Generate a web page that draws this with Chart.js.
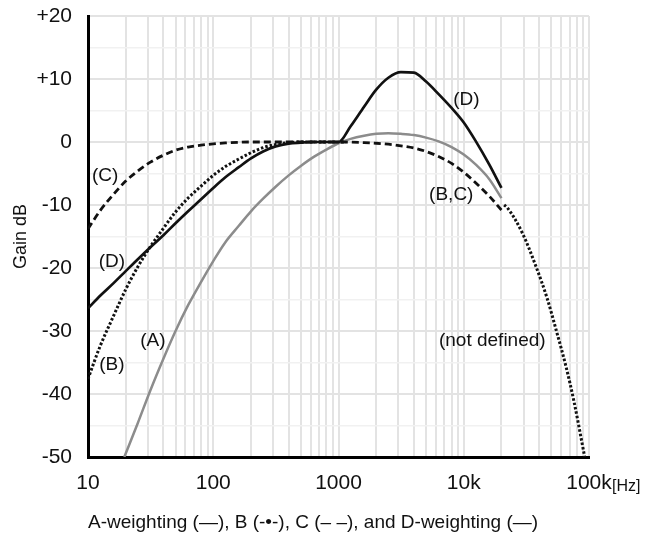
<!DOCTYPE html>
<html>
<head>
<meta charset="utf-8">
<script src="https://cdn.jsdelivr.net/npm/chart.js@4"></script>
<style>
  body { margin: 0; background: #fff; }
  canvas { display: block; }
</style>
</head>
<body>
<canvas id="weightChart" width="645" height="533"></canvas>
<script>
// Frequencies (Hz) and gains (dB)
const aFreq = [19.5, 25, 31.5, 40, 50, 63, 80, 100, 125, 160, 200, 250, 315, 400, 500, 630, 800, 1000,
               1250, 1600, 2000, 2500, 3150, 4000, 5000, 6300, 8000, 10000, 12500, 16000, 20000];
const aGain = [-50, -44.6, -39.4, -34.4, -30.0, -25.9, -22.2, -18.9, -15.9, -13.3, -11.0, -9.0, -7.1, -5.3, -3.8, -2.4, -1.2, -0.2,
               0.5, 1.0, 1.3, 1.4, 1.3, 1.1, 0.7, 0.1, -0.8, -2.0, -3.6, -5.9, -8.9];

const bFreq = [10, 12.5, 16, 20, 25, 31.5, 40, 50, 63, 80, 100, 125, 160, 200, 250, 315, 400, 500, 1150];
const bGain = [-37.6, -32.4, -27.6, -23.4, -19.8, -16.6, -13.7, -11.1, -8.9, -7.0, -5.3, -3.9, -2.7, -1.7, -0.9, -0.4, -0.1, 0, 0];

const cFreq = [10, 12.5, 16, 20, 25, 31.5, 40, 50, 63, 80, 100, 125, 160, 200, 400, 1000,
               1600, 2000, 2500, 3150, 4000, 5000, 6300, 8000, 10000, 12500, 16000, 20000];
const cGain = [-13.8, -10.9, -8.3, -6.2, -4.6, -3.2, -2.1, -1.3, -0.8, -0.5, -0.3, -0.15, -0.05, 0, 0, 0,
               -0.1, -0.2, -0.35, -0.6, -0.95, -1.5, -2.3, -3.4, -4.8, -6.5, -8.6, -10.8];

const dFreq = [10, 12.5, 16, 20, 25, 31.5, 40, 50, 63, 80, 100, 125, 160, 200, 250, 315, 400, 500, 630, 800, 1000,
               1250, 1600, 2000, 2500, 3150, 4000, 5000, 6300, 8000, 10000, 12500, 16000, 20000];
const dGain = [-26.4, -24.4, -22.4, -20.5, -18.6, -16.7, -14.8, -12.9, -11.0, -9.1, -7.3, -5.6, -4.0, -2.6, -1.5, -0.7, -0.25, -0.1, 0, 0, 0,
               2.5, 5.6, 8.3, 10.2, 11.1, 11.0, 9.6, 7.6, 5.4, 3.1, 0.1, -3.6, -7.3];

// B/C continuation above 20 kHz ("not defined")
const extFreq = [21000, 22200, 29300, 37800, 46300, 54600, 65600, 75900, 91200, 94500];
const extGain = [-10.0, -10.4, -14.4, -19.8, -24.8, -29.8, -35.7, -41.2, -49.4, -51];

const yTicks = [20, 15, 10, 5, 0, -5, -10, -15, -20, -25, -30, -35, -40, -45, -50];
const xLabels = { 10: '10', 100: '100', 1000: '1000', 10000: '10k', 100000: '100k' };

const notes = [
    { text: '(D)', x: 10500, y: 6.7 },
    { text: '(C)', x: 13.7, y: -5.4 },
    { text: '(D)', x: 15.5, y: -19.0 },
    { text: '(A)', x: 33, y: -31.6 },
    { text: '(B)', x: 15.5, y: -35.4 },
    { text: '(B,C)', x: 7950, y: -8.3 },
    { text: '(not defined)', x: 16900, y: -31.6 },
];

const toPoints = (fs, gs) => fs.map((f, i) => ({ x: f, y: gs[i] }));

// grid lines 1..9 x 10^n
const gridFreqs = [];
for (let dec = 10; dec < 100000; dec *= 10) {
    for (let m = 1; m <= 9; m++) gridFreqs.push(dec * m);
}
gridFreqs.push(100000);

const FONT = "'Liberation Sans', Arial, sans-serif";
Chart.defaults.font.family = FONT;
Chart.defaults.color = '#111';

const notesPlugin = {
    id: 'notes',
    afterDatasetsDraw(chart) {
        const ctx = chart.ctx;
        const xs = chart.scales.x, ys = chart.scales.y;
        ctx.save();
        ctx.fillStyle = '#111';
        ctx.font = '19px ' + FONT;
        ctx.textAlign = 'center';
        ctx.textBaseline = 'middle';
        notes.forEach(n => {
            ctx.fillText(n.text, xs.getPixelForValue(n.x), ys.getPixelForValue(n.y));
        });
        // unit after the last tick label
        ctx.font = '16px ' + FONT;
        ctx.textAlign = 'left';
        ctx.fillText('[Hz]', xs.right + 23, ys.bottom + 30);
        ctx.restore();
    }
};

const ctx = document.getElementById('weightChart').getContext('2d');
const weightChart = new Chart(ctx, {
    type: 'line',
    data: {
        datasets: [
            {
                label: 'D',
                data: toPoints(dFreq, dGain),
                borderColor: '#111',
                borderWidth: 2.7,
            },
            {
                label: 'B',
                data: toPoints(bFreq, bGain),
                borderColor: '#111',
                borderWidth: 3,
                borderDash: [2.5, 2],
            },
            {
                label: 'ext',
                data: toPoints(extFreq, extGain),
                borderColor: '#111',
                borderWidth: 3,
                borderDash: [2.5, 2],
            },
            {
                label: 'C',
                data: toPoints(cFreq, cGain),
                borderColor: '#111',
                borderWidth: 2.8,
                borderDash: [7, 4],
            },
            {
                label: 'A',
                data: toPoints(aFreq, aGain),
                borderColor: '#8c8c8c',
                borderWidth: 2.5,
            },
        ],
    },
    options: {
        responsive: false,
        animation: false,
        layout: { padding: { top: 16, right: 56, bottom: 0, left: 0 } },
        elements: {
            point: { radius: 0 },
            line: { cubicInterpolationMode: 'monotone', fill: false },
        },
        plugins: {
            legend: { display: false },
            tooltip: { enabled: false },
        },
        scales: {
            x: {
                type: 'logarithmic',
                min: 10,
                max: 100000,
                afterBuildTicks: (scale) => {
                    scale.ticks = gridFreqs.map(v => ({ value: v }));
                },
                afterFit: (scale) => {
                    scale.height = 76;
                    scale.paddingLeft = 0;
                    scale.paddingRight = 0;
                },
                grid: { color: '#e3e3e3', lineWidth: 2, drawTicks: false },
                border: { display: true, color: '#000', width: 3 },
                ticks: {
                    autoSkip: false,
                    maxRotation: 0,
                    padding: 14,
                    font: { size: 21 },
                    color: '#111',
                    callback: (v) => xLabels[v] || '',
                },
                title: {
                    display: true,
                    align: 'start',
                    text: 'A-weighting (\u2014), B (-\u2022-), C (\u2013 \u2013), and D-weighting (\u2014)',
                    font: { size: 19 },
                    color: '#111',
                    padding: { top: 0, bottom: -1 },
                },
            },
            y: {
                min: -50,
                max: 20,
                afterBuildTicks: (scale) => {
                    scale.ticks = yTicks.map(v => ({ value: v }));
                },
                afterFit: (scale) => {
                    scale.width = 88;
                    scale.paddingTop = 0;
                    scale.paddingBottom = 0;
                },
                grid: {
                    drawTicks: false,
                    color: (c) => (c.tick.value % 10 === 0 ? '#e3e3e3' : '#f1f1f1'),
                    lineWidth: (c) => (c.tick.value % 10 === 0 ? 2 : 1.5),
                },
                border: { display: true, color: '#000', width: 3 },
                ticks: {
                    autoSkip: false,
                    padding: 16,
                    font: { size: 21 },
                    color: '#111',
                    callback: (v) => (v % 10 !== 0 ? '' : (v > 0 ? '+' + v : '' + v)),
                },
                title: {
                    display: true,
                    text: 'Gain dB',
                    font: { size: 18 },
                    color: '#111',
                    padding: { top: 10, bottom: 0 },
                },
            },
        },
    },
    plugins: [notesPlugin],
});
</script>
</body>
</html>
